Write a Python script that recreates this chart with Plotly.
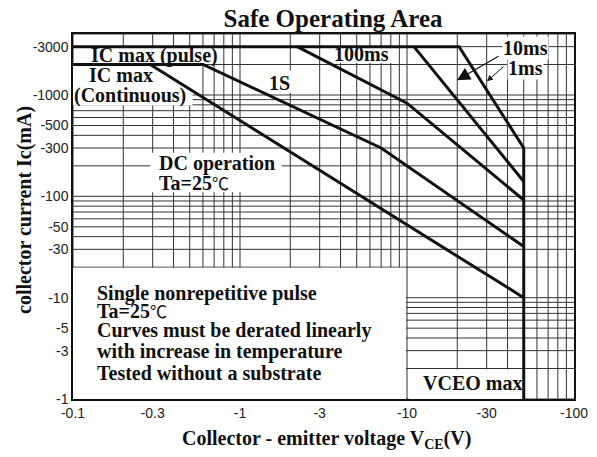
import math
import plotly.graph_objects as go

# ---- axis ticks (values plotted as magnitudes on log axes, labelled negative) ----
x_tickvals = [0.1, 0.3, 1, 3, 10, 30, 100]
x_ticktext = ["-0.1", "-0.3", "-1", "-3", "-10", "-30", "-100"]
y_tickvals = [1, 3, 5, 10, 30, 50, 100, 300, 500, 1000, 3000]
y_ticktext = ["-1", "-3", "-5", "-10", "-30", "-50", "-100", "-300", "-500", "-1000", "-3000"]

# ---- SOA curves (|VCE| in V, |Ic| in mA) ----
v_1ms = [0.1, 20.5, 50, 50]
i_1ms = [3000, 3000, 300, 1]
v_10ms = [11, 50]
i_10ms = [3000, 140]
v_100ms = [2.2, 10, 50]
i_100ms = [3000, 830, 92]
v_1s = [0.1, 0.6, 7, 50]
i_1s = [2000, 2000, 300, 32]
v_dc = [0.29, 50]
i_dc = [2000, 10]

SERIF = "Liberation Serif"
SANS = "Liberation Sans"
GRID = "#333333"
INK = "#111111"
LBL = 20
DEG = "<span style=\"font-family:'Noto Sans CJK SC';font-weight:normal;font-size:17px\">℃</span>"
lg = math.log10

W, H = 597, 457

fig = go.Figure()

for vx, iy in [(v_1ms, i_1ms), (v_10ms, i_10ms), (v_100ms, i_100ms), (v_1s, i_1s), (v_dc, i_dc)]:
    fig.add_trace(go.Scatter(x=vx, y=iy, mode="lines",
                             line=dict(color=INK, width=3), showlegend=False,
                             hoverinfo="skip"))

shapes = []
# log grid (1..9 per decade)
for k in range(-1, 2):
    for d in range(1, 10):
        v = d * 10 ** k
        shapes.append(dict(type="line", xref="x", yref="paper", x0=v, x1=v, y0=0, y1=1,
                           line=dict(color=GRID, width=1), layer="below"))
for k in range(0, 4):
    for d in range(1, 10):
        v = d * 10 ** k
        if v > 4000:
            continue
        shapes.append(dict(type="line", xref="paper", yref="y", x0=0, x1=1, y0=v, y1=v,
                           line=dict(color=GRID, width=1), layer="below"))

# white backgrounds behind text (below the curves)
white_boxes = [
    ([0.122, 0.75], [2070, 2900]),
    ([0.1, 0.52], [790, 1950]),
    ([1.36, 2.05], [1050, 1750]),
    ([3.3, 8.2], [2070, 2900]),
    ([0.29, 1.78], [110, 270]),
    ([0.1, 9.85], [1, 19.7]),
    ([10.2, 49.4], [1, 1.96]),
]
for (xs, ys) in white_boxes:
    shapes.append(dict(type="rect", xref="x", yref="y", x0=xs[0], x1=xs[1], y0=ys[0], y1=ys[1],
                       fillcolor="white", line=dict(width=0), layer="below"))

fig.update_layout(shapes=shapes)

def label(text, x, y, size=LBL, bg=None, anchor="left"):
    fig.add_annotation(x=lg(x), y=lg(y), xref="x", yref="y", text="<b>" + text + "</b>",
                       showarrow=False, xanchor=anchor, yanchor="middle",
                       font=dict(family=SERIF, size=size, color=INK),
                       bgcolor=bg, borderpad=0)

label("IC max (pulse)", 0.1264, 2480)
label("IC max", 0.123, 1579)
label("(Continuous)", 0.1, 980)
label("1S", 1.47, 1316)
label("100ms", 3.6, 2546)
label("10ms", 37, 2917, bg="white")
label("1ms", 39.7, 1853, bg="white")
label("DC operation", 0.323, 209)
label("Ta=25" + DEG, 0.323, 136)
label("VCEO max", 12.3, 1.44)

notes = ["Single nonrepetitive pulse", "Ta=25" + DEG, "Curves must be derated linearly",
         "with increase in temperature", "Tested without a substrate"]
note_y = [11.1, 7.39, 4.69, 2.91, 1.81]
for t, yy in zip(notes, note_y):
    label(t, 0.1374, yy)

# arrows for 10ms / 1ms
fig.add_annotation(x=lg(19.9), y=lg(1396), xref="x", yref="y", text="", showarrow=True,
                   ax=43, ay=-25, arrowhead=2, arrowsize=2.2, arrowwidth=1.2, arrowcolor=INK)
fig.add_annotation(x=lg(30.1), y=lg(1364), xref="x", yref="y", text="", showarrow=True,
                   ax=18, ay=-16, arrowhead=2, arrowsize=1.2, arrowwidth=1, arrowcolor=INK)

# axis titles
fig.add_annotation(x=0.505, y=-0.112, xref="paper", yref="paper", showarrow=False,
                   text="<b>Collector - emitter voltage V<sub>CE</sub>(V)</b>",
                   xanchor="center", yanchor="middle",
                   font=dict(family=SERIF, size=20, color=INK))
fig.add_annotation(x=-0.0958, y=0.518, xref="paper", yref="paper", showarrow=False,
                   text="<b>collector current Ic(mA)</b>", textangle=-90,
                   xanchor="center", yanchor="middle",
                   font=dict(family=SERIF, size=20, color=INK))

fig.update_xaxes(type="log", range=[-1, 2], tickmode="array", tickvals=x_tickvals,
                 ticktext=x_ticktext, showgrid=False, zeroline=False, automargin=False,
                 showline=True, mirror=True, linecolor="#111", linewidth=1.5,
                 ticks="", tickfont=dict(family=SANS, size=14, color="#222"))
fig.update_yaxes(type="log", range=[0, lg(4000)], tickmode="array", tickvals=y_tickvals,
                 ticktext=y_ticktext, showgrid=False, zeroline=False, automargin=False,
                 showline=True, mirror=True, linecolor="#111", linewidth=1.5,
                 ticks="", tickfont=dict(family=SANS, size=14, color="#222"))

fig.update_layout(
    width=W, height=H,
    margin=dict(l=73, r=23, t=34, b=58, autoexpand=False),
    paper_bgcolor="white", plot_bgcolor="white",
    title=dict(text="<b>Safe Operating Area</b>", x=333 / W, xanchor="center",
               y=1 - 18 / H, yanchor="middle", yref="container",
               font=dict(family=SERIF, size=25, color=INK)),
)

fig.write_html("out.html", config={"displayModeBar": False},
               post_script="document.body.style.margin='0px';")
